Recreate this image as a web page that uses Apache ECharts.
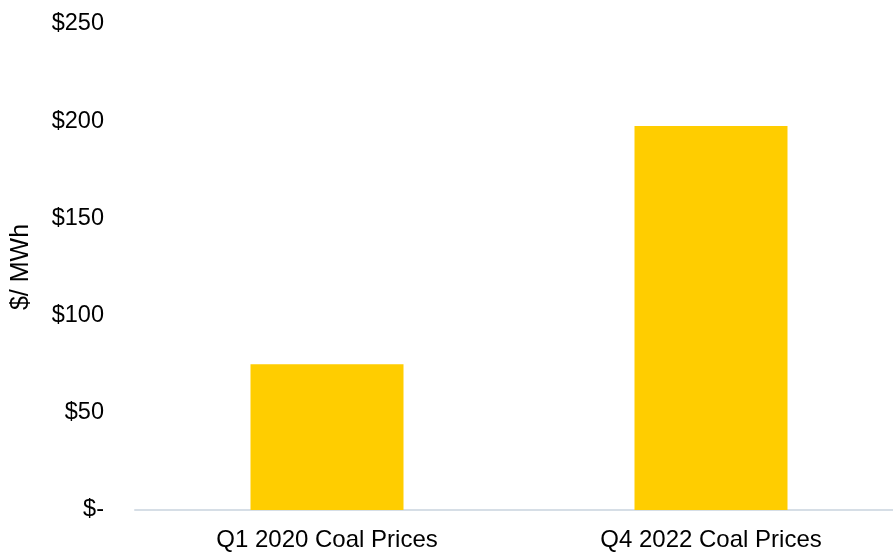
<!DOCTYPE html>
<html>
<head>
<meta charset="utf-8">
<script src="https://cdn.jsdelivr.net/npm/echarts@6/dist/echarts.min.js"></script>
<style>
html,body{margin:0;padding:0;background:#fff;overflow:hidden;width:893px;height:552px;}
#chart{width:903px;height:552px;}
</style>
</head>
<body>
<div id="chart"></div>
<script>
var categories = ["Q1 2020 Coal Prices", "Q4 2022 Coal Prices"];
var prices = [75, 197.5];
var yTicks = [0, 50, 100, 150, 200, 250];

var FONT = "'Liberation Sans', Arial, sans-serif";
var chart = echarts.init(document.getElementById('chart'), null, {renderer: 'canvas'});
chart.setOption({
  animation: false,
  backgroundColor: '#ffffff',
  grid: {left: 135, right: 0, top: 24, bottom: 42, containLabel: false},
  xAxis: {
    type: 'category',
    data: categories,
    axisLine: {show: true, lineStyle: {color: '#D6DEE6', width: 2}},
    axisTick: {show: false},
    axisLabel: {color: '#000', fontFamily: FONT, fontSize: 24, margin: 18}
  },
  yAxis: {
    type: 'value',
    min: yTicks[0],
    max: yTicks[yTicks.length - 1],
    interval: 50,
    name: '$/ MWh',
    nameLocation: 'middle',
    nameRotate: 90,
    nameGap: 101,
    nameTextStyle: {color: '#000', fontFamily: FONT, fontSize: 25},
    axisLine: {show: false},
    axisTick: {show: false},
    splitLine: {show: false},
    axisLabel: {
      color: '#000', fontFamily: FONT, fontSize: 23.5, margin: 31,
      padding: [4, 0, 0, 0],
      formatter: function (v) { return v === 0 ? '$-' : '$' + v; }
    }
  },
  series: [{
    type: 'bar',
    data: prices,
    barWidth: 153,
    itemStyle: {color: '#FFCD00'}
  }]
});
</script>
</body>
</html>
